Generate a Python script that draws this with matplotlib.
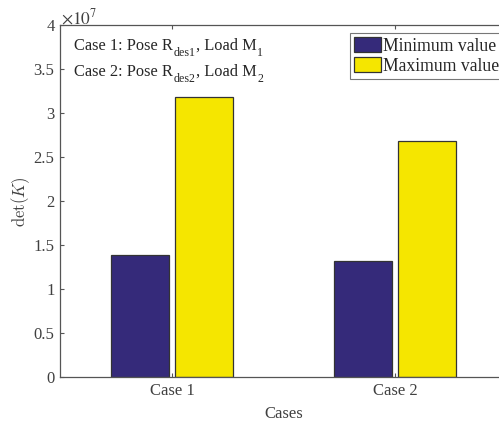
import matplotlib
matplotlib.use("Agg")
import matplotlib.pyplot as plt
from matplotlib.transforms import IdentityTransform
import numpy as np

# Data
categories = ["Case 1", "Case 2"]
series_names = ["Minimum value", "Maximum value"]
min_values = [1.39e7, 1.32e7]
max_values = [3.18e7, 2.69e7]
ytick_values = [0, 0.5e7, 1e7, 1.5e7, 2e7, 2.5e7, 3e7, 3.5e7, 4e7]
ytick_labels = ["0", "0.5", "1", "1.5", "2", "2.5", "3", "3.5", "4"]
case_notes = [
    [("Case 1: Pose R", False), ("des1", True), (", Load M", False), ("1", True)],
    [("Case 2: Pose R", False), ("des2", True), (", Load M", False), ("2", True)],
]

plt.rcParams["font.family"] = ["Liberation Serif", "DejaVu Serif"]
plt.rcParams["mathtext.fontset"] = "stix"

text_color = "#404040"
axis_color = "#555555"
blue = "#352A7A"
yellow = "#F5E600"

W, H, DPI = 4.99, 4.22, 100
fig = plt.figure(figsize=(W, H), dpi=DPI)
ax = fig.add_axes([0.1212, 0.1059, 0.8938, 0.8341])

x = np.arange(1, len(categories) + 1)
offset = 0.144
width = 0.258
ax.bar(x - offset, min_values, width, color=blue, edgecolor="#333333",
       linewidth=0.9, label=series_names[0])
ax.bar(x + offset, max_values, width, color=yellow, edgecolor="#333333",
       linewidth=0.9, label=series_names[1])

ax.set_xlim(0.5, 2.5)
ax.set_ylim(0, 4e7)
ax.set_xticks(x)
ax.set_xticklabels(categories)
ax.set_yticks(ytick_values)
ax.set_yticklabels(ytick_labels)

for s in ax.spines.values():
    s.set_color(axis_color)
    s.set_linewidth(0.9)
ax.spines["right"].set_visible(False)

ax.tick_params(direction="in", length=3, width=0.8, colors=axis_color,
               labelcolor=text_color, labelsize=12, pad=4.3,
               top=True, right=False)

ax.set_xlabel("Cases", fontsize=12, color=text_color, labelpad=5)
ax.set_ylabel(r"$\det(K)$", fontsize=12, color=text_color, labelpad=1,
              math_fontfamily="cm")

# exponent marker above the y axis
ax.text(0.001, 1.004, r"$\times10^{7}$", transform=ax.transAxes,
        ha="left", va="baseline", fontsize=12.5, color=text_color)

# case notes with lowered subscripts, laid out piece by piece in pixels
renderer = fig.canvas.get_renderer()
img_h = H * DPI


def draw_note(parts, x0, base_y, size=11.8, sub_size=8.6, sub_drop=6.0):
    xpos = x0
    for txt, is_sub in parts:
        y = img_h - base_y - (sub_drop if is_sub else 0.0)
        t = fig.text(xpos, y, txt, transform=IdentityTransform(),
                     ha="left", va="baseline",
                     fontsize=sub_size if is_sub else size, color="#262626")
        bb = t.get_window_extent(renderer=renderer)
        xpos = bb.x1 + 0.5


draw_note(case_notes[0], 74, 50)
draw_note(case_notes[1], 74, 75.5)

leg = ax.legend(loc="upper left", bbox_to_anchor=(0.649, 0.978),
                fontsize=12.7, frameon=True, fancybox=False, framealpha=1,
                edgecolor="#777777", handlelength=1.5, handleheight=0.86,
                handletextpad=0.15, borderpad=0.25, labelspacing=0.16,
                borderaxespad=0)
leg.get_frame().set_linewidth(0.8)
for t in leg.get_texts():
    t.set_color("#262626")

fig.savefig("out.png", dpi=DPI)
